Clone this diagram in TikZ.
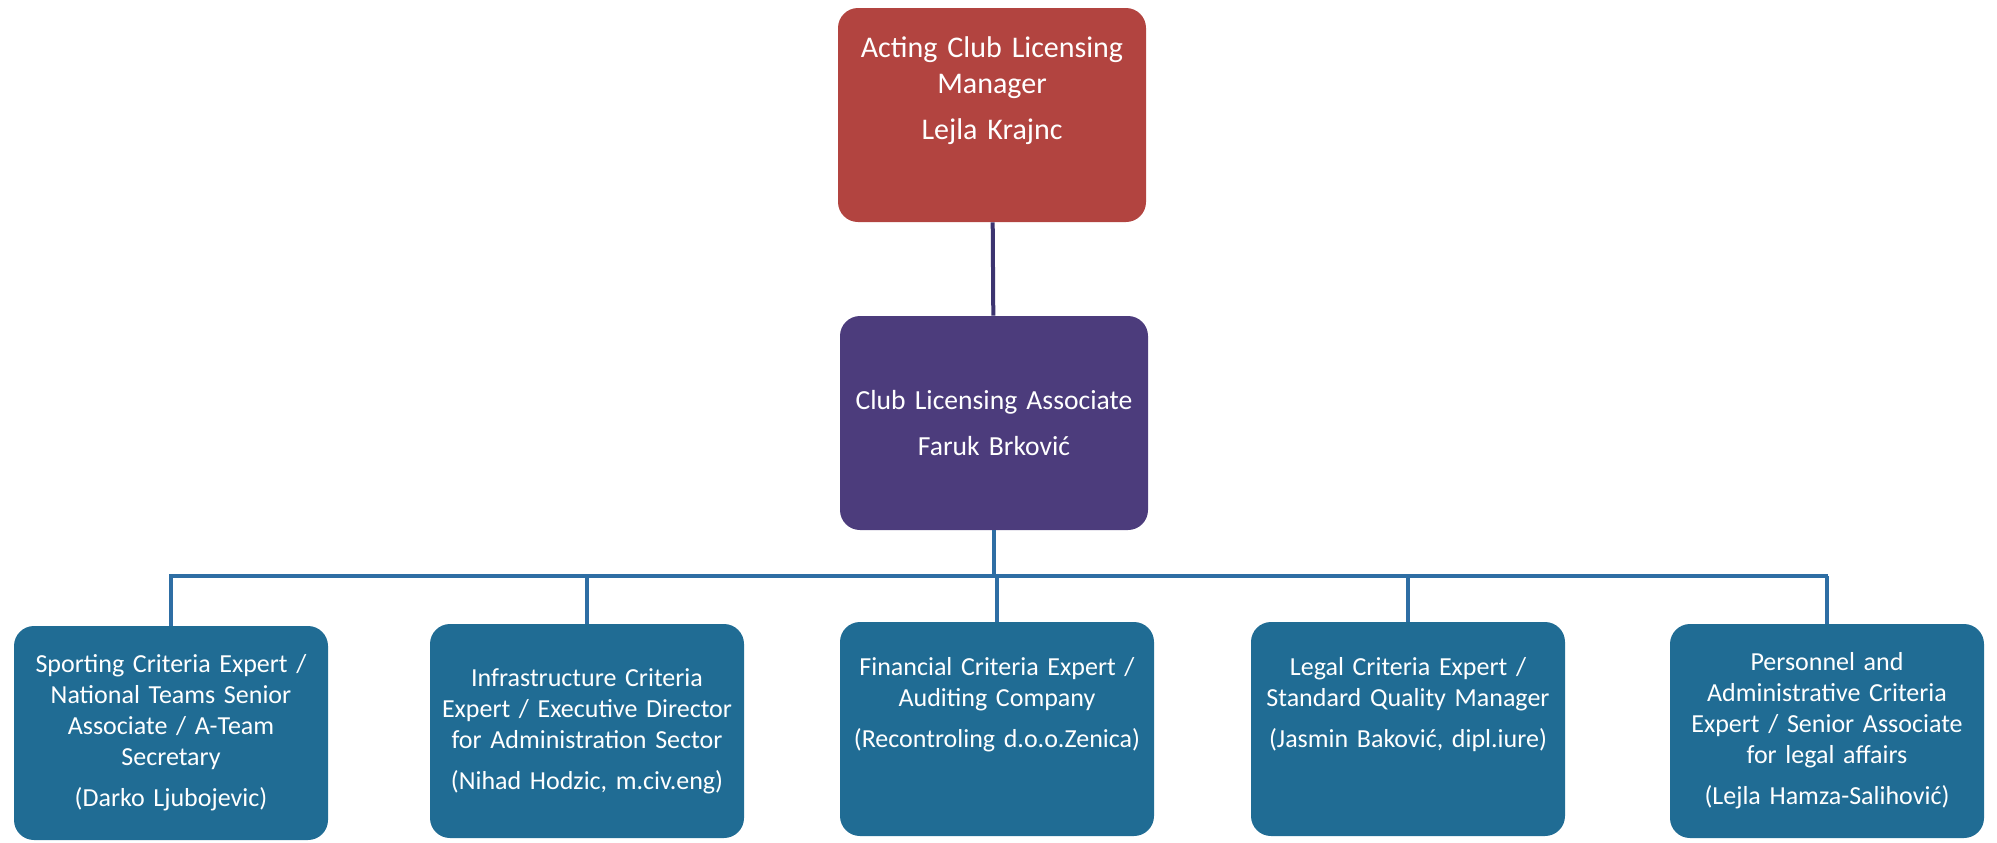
\documentclass[tikz,border=0pt]{standalone}
\usepackage{fontspec}
\setmainfont{Carlito}
\definecolor{mgrred}{RGB}{178,68,64}
\definecolor{assocpurple}{RGB}{76,60,124}
\definecolor{expertblue}{RGB}{32,108,148}
\definecolor{toplink}{RGB}{60,52,112}
\definecolor{buslink}{RGB}{46,110,164}
\tikzset{
  orgbox/.style={rounded corners=10pt, text=white, align=center, inner sep=2pt,
    minimum height=107pt, font=\fontsize{15}{18}\selectfont},
  mgrbox/.style={orgbox, fill=mgrred, minimum width=154pt, text width=150pt},
  assocbox/.style={orgbox, fill=assocpurple, minimum width=154pt, text width=150pt,
    font=\fontsize{13.8}{17}\selectfont},
  expertbox/.style={orgbox, fill=expertblue, minimum width=157pt, text width=152pt,
    font=\fontsize{13}{15.5}\selectfont},
}
\begin{document}
\begin{tikzpicture}[x=0.5pt, y=-0.5pt]
    \useasboundingbox (0, 0) rectangle (1997, 842);

    \node[mgrbox] (mgr) at (992, 115) {Acting Club Licensing\\Manager\\[5pt]Lejla Krajnc\\[9pt]\mbox{}};
    \node[assocbox] (assoc) at (994, 423) {\mbox{Club Licensing Associate}\\[6pt]Faruk Brković};

    \node[expertbox] (sport) at (171, 733) {Sporting Criteria Expert /\\National Teams Senior\\Associate / A-Team\\Secretary\\[5pt](Darko Ljubojevic)};
    \node[expertbox] (infra) at (587, 731) {Infrastructure Criteria\\Expert / Executive Director\\for Administration Sector\\[5pt](Nihad Hodzic, m.civ.eng)};
    \node[expertbox] (fin) at (997, 729) {Financial Criteria Expert /\\Auditing Company\\[5pt](Recontroling d.o.o.Zenica)\\[11.5pt]\mbox{}};
    \node[expertbox] (legal) at (1408, 729) {Legal Criteria Expert /\\Standard Quality Manager\\[5pt](Jasmin Baković, dipl.iure)\\[11.5pt]\mbox{}};
    \node[expertbox] (pers) at (1827, 731) {Personnel and\\Administrative Criteria\\Expert / Senior Associate\\for legal affairs\\[5pt](Lejla Hamza-Salihović)};

    \coordinate (busL) at (169, 576);
    \coordinate (busR) at (1828, 576);

    \draw[toplink, line width=2pt] (mgr) -- (assoc);
    \draw[buslink, line width=2pt] (assoc) -- (assoc |- busL);
    \draw[buslink, line width=2pt] (busL) -- (busR);
    \draw[buslink, line width=2pt] (sport) -- (sport |- busL);
    \draw[buslink, line width=2pt] (infra) -- (infra |- busL);
    \draw[buslink, line width=2pt] (fin) -- (fin |- busL);
    \draw[buslink, line width=2pt] (legal) -- (legal |- busL);
    \draw[buslink, line width=2pt] (pers) -- (pers |- busL);
\end{tikzpicture}
\end{document}
